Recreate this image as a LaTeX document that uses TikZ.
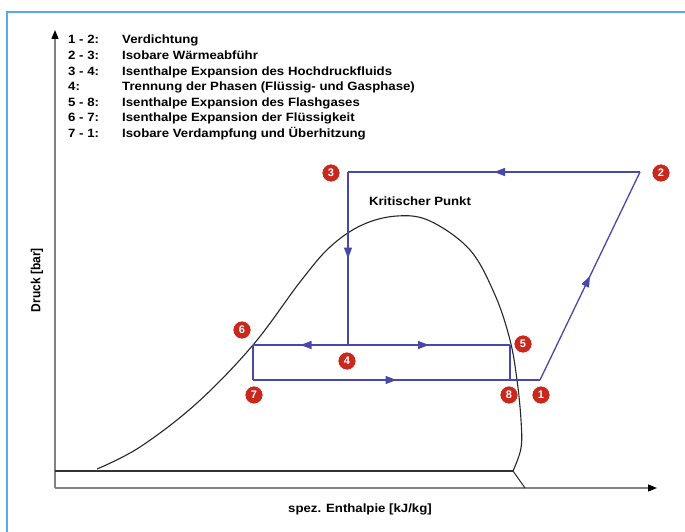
\documentclass[tikz,border=0pt]{standalone}
\usepackage{fontspec}
\setmainfont{Liberation Sans}
\usetikzlibrary{arrows.meta}
\usetikzlibrary{decorations.markings}
\definecolor{cycleblue}{RGB}{72,72,168}
\definecolor{ballred}{RGB}{200,40,30}
\definecolor{frameblue}{RGB}{90,170,230}
\definecolor{axisgray}{RGB}{130,130,130}

\begin{document}
\begin{tikzpicture}[x=1pt,y=-1pt,
  every node/.style={font=\bfseries\fontsize{12}{14}\selectfont},
  wide/.style={xscale=1.1},
  axis/.style={draw=axisgray,line width=1.3pt,-{Triangle[length=9pt,width=7pt,color=black]}},
  cycleline/.style={draw=cycleblue,line width=1.3pt},
  midarrow/.style={cycleline,postaction={decorate},
    decoration={markings,mark=at position 0.5 with {\arrow[cycleblue]{Triangle[length=11pt,width=8pt]}}}},
  ball/.style={circle,fill=ballred,draw=white,line width=0.6pt,minimum size=18pt,
    inner sep=0pt,text=white,font=\bfseries\fontsize{11}{11}\selectfont}]
\useasboundingbox (0,0) rectangle (685,532);

% frame
\draw[frameblue,line width=1.5pt] (7,532) -- (7,12) -- (685,12);

% axes
\coordinate (O) at (55,488);
\coordinate (ytop) at (55,30);
\coordinate (xend) at (657,488);
\draw[axis] (O) -- (ytop);
\draw[axis] (O) -- (xend);
\node[rotate=90,yscale=1.1] (ylab) at (37,280) {Druck [bar]};
\node[wide] (xlab) at (360,509) {spez. Enthalpie [kJ/kg]};

% legend
\foreach \k/\t [count=\i from 0] in {1 - 2:/Verdichtung,
    2 - 3:/Isobare Wärmeabführ,
    3 - 4:/Isenthalpe Expansion des Hochdruckfluids,
    4:/Trennung der Phasen (Flüssig- und Gasphase),
    5 - 8:/Isenthalpe Expansion des Flashgases,
    6 - 7:/Isenthalpe Expansion der Flüssigkeit,
    7 - 1:/Isobare Verdampfung und Überhitzung}{
  \node[wide,anchor=base west,inner sep=0pt] (key\i) at (68,{44+15.6*\i}) {\k};
  \node[wide,anchor=base west,inner sep=0pt] (txt\i) at (122,{44+15.6*\i}) {\t};
}

% two-phase dome
\draw[line width=1.1pt,black!85] plot[smooth,tension=0.6] coordinates {
  (97,469) (140,447) (197,403) (253,345) (300,282) (330,247) (362,225)
  (397,216) (430,221) (470,250) (495,295) (510,340) (517,380) (521,420)
  (521,448) (513,471)};
\draw[line width=2.4pt,black!80] (55,471) -- (513,471);
\draw[line width=1pt,black!85] (513,471) -- (525,488);
\node[wide] (kp) at (420,201) {Kritischer Punkt};

% cycle
\coordinate (p1) at (540,380);
\coordinate (p2) at (640,172);
\coordinate (p3) at (348,172);
\coordinate (p4) at (348,345);
\coordinate (p5) at (510,345);
\coordinate (p6) at (253,345);
\coordinate (p7) at (253,380);
\coordinate (p8) at (510,380);
\draw[midarrow] (p1) -- (p2);
\draw[midarrow] (p2) -- (p3);
\draw[midarrow] (p3) -- (p4);
\draw[midarrow] (p4) -- (p6);
\draw[midarrow] (p4) -- (p5);
\draw[cycleline] (p6) -- (p7);
\draw[cycleline] (p5) -- (p8);
\draw[midarrow] (p7) -- (p1);

% state numbers
\node[ball] (n1) at (541,395) {1};
\node[ball] (n2) at (661,173) {2};
\node[ball] (n3) at (331,173) {3};
\node[ball] (n4) at (347,361) {4};
\node[ball] (n5) at (523,344) {5};
\node[ball] (n6) at (242,330) {6};
\node[ball] (n7) at (254,395) {7};
\node[ball] (n8) at (509,395) {8};
\end{tikzpicture}
\end{document}
